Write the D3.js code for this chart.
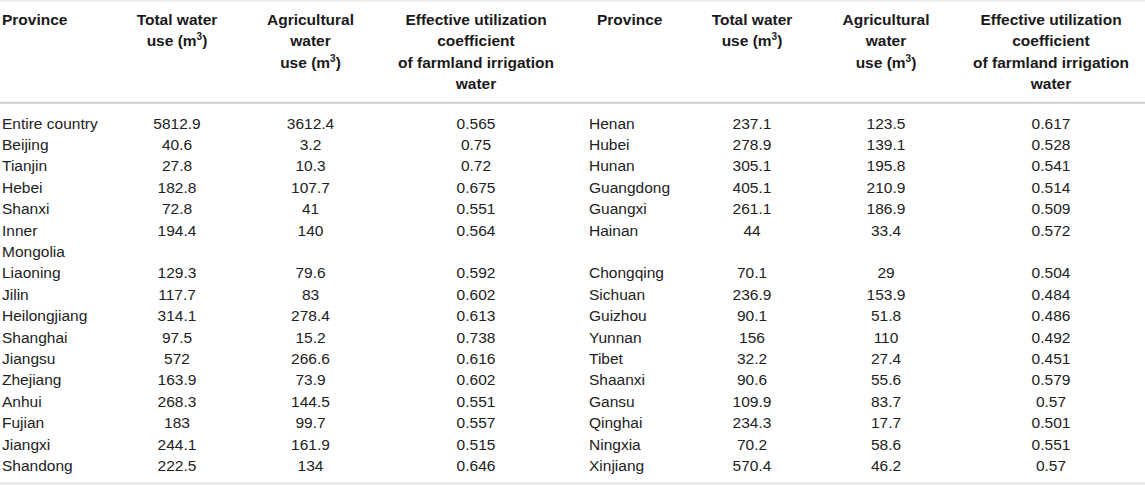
<!DOCTYPE html>
<html>
<head>
<meta charset="utf-8">
<script src="https://cdn.jsdelivr.net/npm/d3@7/dist/d3.min.js"></script>
<style>
  html, body { margin: 0; padding: 0; background: #fff; }
  svg { display: block; font-family: "Liberation Sans", Arial, Helvetica, sans-serif; }
</style>
</head>
<body>
<svg id="chart" width="1145" height="485"></svg>
<script>
// ---- Data ----
const headers = [
  ["Province"],
  ["Total water", "use (m³)"],
  ["Agricultural", "water", "use (m³)"],
  ["Effective utilization", "coefficient", "of farmland irrigation", "water"]
];

const provincesLeft = ["Entire country", "Beijing", "Tianjin", "Hebei", "Shanxi", "Inner Mongolia",
  "Liaoning", "Jilin", "Heilongjiang", "Shanghai", "Jiangsu", "Zhejiang", "Anhui", "Fujian", "Jiangxi", "Shandong"];
const totalLeft = [5812.9, 40.6, 27.8, 182.8, 72.8, 194.4, 129.3, 117.7, 314.1, 97.5, 572, 163.9, 268.3, 183, 244.1, 222.5];
const agriLeft = [3612.4, 3.2, 10.3, 107.7, 41, 140, 79.6, 83, 278.4, 15.2, 266.6, 73.9, 144.5, 99.7, 161.9, 134];
const coefLeft = [0.565, 0.75, 0.72, 0.675, 0.551, 0.564, 0.592, 0.602, 0.613, 0.738, 0.616, 0.602, 0.551, 0.557, 0.515, 0.646];

const provincesRight = ["Henan", "Hubei", "Hunan", "Guangdong", "Guangxi", "Hainan", "Chongqing", "Sichuan",
  "Guizhou", "Yunnan", "Tibet", "Shaanxi", "Gansu", "Qinghai", "Ningxia", "Xinjiang"];
const totalRight = [237.1, 278.9, 305.1, 405.1, 261.1, 44, 70.1, 236.9, 90.1, 156, 32.2, 90.6, 109.9, 234.3, 70.2, 570.4];
const agriRight = [123.5, 139.1, 195.8, 210.9, 186.9, 33.4, 29, 153.9, 51.8, 110, 27.4, 55.6, 83.7, 17.7, 58.6, 46.2];
const coefRight = [0.617, 0.528, 0.541, 0.514, 0.509, 0.572, 0.504, 0.484, 0.486, 0.492, 0.451, 0.579, 0.57, 0.501, 0.551, 0.57];

// ---- Layout ----
const svg = d3.select("#chart");
const W = 1145;
const FS = 15.5;
const provWrapWidth = 99;

const headerY = d3.scaleLinear().domain([0, 3]).range([25, 89]);
const lineY = d3.scaleLinear().domain([0, 16]).range([128.6, 471]);

const halves = [
  { names: provincesLeft, total: totalLeft, agri: agriLeft, coef: coefLeft,
    provHeadX: 2, provX: 2, cx: [177, 310.5, 476] },
  { names: provincesRight, total: totalRight, agri: agriRight, coef: coefRight,
    provHeadX: 597, provX: 589, cx: [752, 886, 1051] }
];

// rules
svg.append("line").attr("x1", 0).attr("x2", W).attr("y1", 1).attr("y2", 1)
  .attr("stroke", "#e4e4e4").attr("stroke-width", 1.2);
svg.append("line").attr("x1", 0).attr("x2", W).attr("y1", 102.8).attr("y2", 102.8)
  .attr("stroke", "#cdcdcd").attr("stroke-width", 2);
svg.append("line").attr("x1", 0).attr("x2", W).attr("y1", 483.5).attr("y2", 483.5)
  .attr("stroke", "#dedede").attr("stroke-width", 1.5);

function addHeaderLine(g, txt, x, y, anchor) {
  const t = g.append("text").attr("x", x).attr("y", y)
    .attr("text-anchor", anchor)
    .attr("font-size", FS).attr("font-weight", "bold").attr("fill", "#1a1a1a");
  if (txt.includes("³")) {
    const parts = txt.split("³");
    t.append("tspan").text(parts[0]);
    t.append("tspan").text("3").attr("font-size", 10).attr("dy", -6);
    t.append("tspan").text(parts[1]).attr("dy", 6);
  } else {
    t.text(txt);
  }
}

// measure wrapping of province names once, to get the line count per row
const measure = svg.append("text").attr("font-size", FS).attr("visibility", "hidden");
function wrapWords(name) {
  measure.text(name);
  return measure.node().getComputedTextLength() > provWrapWidth ? name.split(" ") : [name];
}
halves.forEach(h => { h.wrapped = h.names.map(wrapWords); });
measure.remove();

const nRows = provincesLeft.length;
const rowLines = d3.range(nRows).map(i => d3.max(halves, h => h.wrapped[i].length));
const rowStart = [];
rowLines.reduce((acc, n, i) => { rowStart[i] = acc; return acc + n; }, 0);

halves.forEach(h => {
  const g = svg.append("g");
  headers.forEach((lines, ci) => {
    lines.forEach((ln, li) => {
      if (ci === 0) addHeaderLine(g, ln, h.provHeadX, headerY(li), "start");
      else addHeaderLine(g, ln, h.cx[ci - 1], headerY(li), "middle");
    });
  });

  h.names.forEach((name, i) => {
    const l0 = rowStart[i];
    const t = g.append("text").attr("font-size", FS).attr("fill", "#222");
    h.wrapped[i].forEach((w, wi) => {
      t.append("tspan").attr("x", h.provX).attr("y", lineY(l0 + wi)).text(w);
    });
    [h.total[i], h.agri[i], h.coef[i]].forEach((v, ci) => {
      g.append("text").attr("x", h.cx[ci]).attr("y", lineY(l0))
        .attr("text-anchor", "middle").attr("font-size", FS).attr("fill", "#222")
        .text(String(v));
    });
  });
});
</script>
</body>
</html>
